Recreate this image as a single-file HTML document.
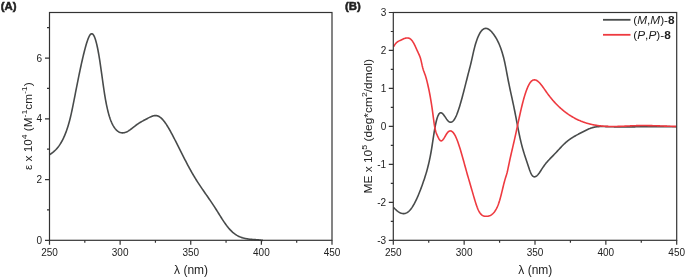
<!DOCTYPE html><html><head><meta charset="utf-8"><style>html,body{margin:0;padding:0;background:#fff;}svg{display:block;will-change:transform;}text{font-family:"Liberation Sans",sans-serif;fill:#222;}</style></head><body>
<svg width="685" height="277" viewBox="0 0 685 277">
<rect width="685" height="277" fill="#fff"/>
<text x="0.8" y="10.1" font-size="11.4" font-weight="bold" stroke="#222" stroke-width="0.5">(A)</text>
<text x="344.9" y="10.1" font-size="11.4" font-weight="bold" stroke="#222" stroke-width="0.5">(B)</text>
<path d="M49.50,154.73 50.00,154.40 50.50,154.07 51.00,153.73 51.50,153.38 52.00,153.02 52.50,152.64 53.00,152.25 53.50,151.84 54.00,151.41 54.50,150.97 55.00,150.50 55.50,150.01 56.00,149.50 56.50,148.96 57.00,148.40 57.50,147.81 58.00,147.19 58.50,146.54 59.00,145.86 59.50,145.14 60.00,144.39 60.50,143.60 61.00,142.77 61.50,141.91 62.00,141.01 62.50,140.06 63.00,139.07 63.50,138.03 64.00,136.95 64.50,135.82 65.00,134.64 65.50,133.40 66.00,132.11 66.50,130.75 67.00,129.32 67.50,127.82 68.00,126.24 68.50,124.58 69.00,122.83 69.50,120.98 70.00,119.04 70.50,117.00 71.00,114.85 71.50,112.61 72.00,110.28 72.50,107.89 73.00,105.43 73.50,102.93 74.00,100.40 74.50,97.84 75.00,95.28 75.50,92.72 76.00,90.16 76.50,87.62 77.00,85.09 77.50,82.58 78.00,80.08 78.50,77.61 79.00,75.17 79.50,72.75 80.00,70.37 80.50,68.02 81.00,65.71 81.50,63.43 82.00,61.20 82.50,59.02 83.00,56.89 83.50,54.81 84.00,52.78 84.50,50.81 85.00,48.90 85.50,47.06 86.00,45.28 86.50,43.58 87.00,41.97 87.50,40.47 88.00,39.08 88.50,37.82 89.00,36.71 89.50,35.75 90.00,34.95 90.50,34.34 91.00,33.93 91.50,33.72 92.00,33.72 92.50,33.94 93.00,34.38 93.50,35.03 94.00,35.89 94.50,36.96 95.00,38.25 95.50,39.74 96.00,41.43 96.50,43.34 97.00,45.44 97.50,47.75 98.00,50.27 98.50,52.98 99.00,55.89 99.50,58.98 100.00,62.22 100.50,65.58 101.00,69.04 101.50,72.57 102.00,76.15 102.50,79.74 103.00,83.32 103.50,86.84 104.00,90.25 104.50,93.53 105.00,96.62 105.50,99.53 106.00,102.25 106.50,104.80 107.00,107.18 107.50,109.41 108.00,111.47 108.50,113.40 109.00,115.18 109.50,116.84 110.00,118.37 110.50,119.78 111.00,121.08 111.50,122.28 112.00,123.38 112.50,124.40 113.00,125.33 113.50,126.19 114.00,126.98 114.50,127.71 115.00,128.39 115.50,129.01 116.00,129.58 116.50,130.10 117.00,130.57 117.50,130.99 118.00,131.37 118.50,131.70 119.00,131.99 119.50,132.23 120.00,132.44 120.50,132.60 121.00,132.73 121.50,132.81 122.00,132.87 122.50,132.88 123.00,132.87 123.50,132.82 124.00,132.74 124.50,132.63 125.00,132.49 125.50,132.33 126.00,132.14 126.50,131.92 127.00,131.69 127.50,131.43 128.00,131.15 128.50,130.85 129.00,130.53 129.50,130.20 130.00,129.86 130.50,129.50 131.00,129.13 131.50,128.76 132.00,128.37 132.50,127.98 133.00,127.59 133.50,127.20 134.00,126.80 134.50,126.41 135.00,126.02 135.50,125.63 136.00,125.25 136.50,124.88 137.00,124.52 137.50,124.17 138.00,123.83 138.50,123.50 139.00,123.18 139.50,122.86 140.00,122.55 140.50,122.25 141.00,121.96 141.50,121.67 142.00,121.39 142.50,121.11 143.00,120.83 143.50,120.56 144.00,120.29 144.50,120.02 145.00,119.76 145.50,119.50 146.00,119.23 146.50,118.97 147.00,118.70 147.50,118.44 148.00,118.17 148.50,117.91 149.00,117.65 149.50,117.39 150.00,117.15 150.50,116.91 151.00,116.69 151.50,116.48 152.00,116.29 152.50,116.11 153.00,115.96 153.50,115.83 154.00,115.73 154.50,115.65 155.00,115.60 155.50,115.58 156.00,115.60 156.50,115.65 157.00,115.74 157.50,115.87 158.00,116.04 158.50,116.26 159.00,116.51 159.50,116.81 160.00,117.15 160.50,117.53 161.00,117.95 161.50,118.40 162.00,118.89 162.50,119.41 163.00,119.96 163.50,120.55 164.00,121.17 164.50,121.81 165.00,122.49 165.50,123.19 166.00,123.92 166.50,124.67 167.00,125.44 167.50,126.24 168.00,127.06 168.50,127.89 169.00,128.75 169.50,129.62 170.00,130.51 170.50,131.41 171.00,132.33 171.50,133.26 172.00,134.19 172.50,135.14 173.00,136.10 173.50,137.06 174.00,138.03 174.50,139.01 175.00,139.99 175.50,140.97 176.00,141.96 176.50,142.94 177.00,143.93 177.50,144.93 178.00,145.92 178.50,146.91 179.00,147.91 179.50,148.90 180.00,149.90 180.50,150.89 181.00,151.89 181.50,152.88 182.00,153.87 182.50,154.86 183.00,155.85 183.50,156.83 184.00,157.81 184.50,158.79 185.00,159.77 185.50,160.73 186.00,161.70 186.50,162.66 187.00,163.61 187.50,164.56 188.00,165.51 188.50,166.44 189.00,167.37 189.50,168.29 190.00,169.21 190.50,170.11 191.00,171.01 191.50,171.90 192.00,172.78 192.50,173.65 193.00,174.51 193.50,175.36 194.00,176.20 194.50,177.03 195.00,177.86 195.50,178.67 196.00,179.47 196.50,180.27 197.00,181.06 197.50,181.84 198.00,182.61 198.50,183.38 199.00,184.14 199.50,184.90 200.00,185.65 200.50,186.39 201.00,187.13 201.50,187.87 202.00,188.60 202.50,189.33 203.00,190.06 203.50,190.78 204.00,191.51 204.50,192.23 205.00,192.95 205.50,193.67 206.00,194.38 206.50,195.10 207.00,195.82 207.50,196.54 208.00,197.26 208.50,197.98 209.00,198.70 209.50,199.43 210.00,200.15 210.50,200.89 211.00,201.62 211.50,202.36 212.00,203.10 212.50,203.85 213.00,204.60 213.50,205.36 214.00,206.12 214.50,206.89 215.00,207.67 215.50,208.45 216.00,209.24 216.50,210.03 217.00,210.83 217.50,211.63 218.00,212.43 218.50,213.24 219.00,214.04 219.50,214.84 220.00,215.64 220.50,216.44 221.00,217.24 221.50,218.02 222.00,218.81 222.50,219.58 223.00,220.35 223.50,221.10 224.00,221.85 224.50,222.59 225.00,223.31 225.50,224.02 226.00,224.72 226.50,225.40 227.00,226.07 227.50,226.71 228.00,227.34 228.50,227.95 229.00,228.54 229.50,229.11 230.00,229.66 230.50,230.19 231.00,230.69 231.50,231.18 232.00,231.65 232.50,232.10 233.00,232.53 233.50,232.95 234.00,233.34 234.50,233.72 235.00,234.08 235.50,234.43 236.00,234.76 236.50,235.07 237.00,235.37 237.50,235.65 238.00,235.93 238.50,236.18 239.00,236.42 239.50,236.65 240.00,236.87 240.50,237.08 241.00,237.27 241.50,237.45 242.00,237.62 242.50,237.79 243.00,237.94 243.50,238.08 244.00,238.21 244.50,238.33 245.00,238.45 245.50,238.55 246.00,238.65 246.50,238.74 247.00,238.83 247.50,238.91 248.00,238.98 248.50,239.05 249.00,239.11 249.50,239.17 250.00,239.22 250.50,239.27 251.00,239.32 251.50,239.36 252.00,239.40 252.50,239.44 253.00,239.48 253.50,239.51 254.00,239.55 254.50,239.58 255.00,239.62 255.50,239.65 256.00,239.68 256.50,239.72 257.00,239.76 257.50,239.80 258.00,239.84 258.50,239.88 259.00,239.93 259.50,239.98 260.00,240.04 260.50,240.10 261.00,240.17 261.50,240.24 262.00,240.31 262.50,240.40 263.00,240.48" fill="none" stroke="#484b4b" stroke-width="1.6" stroke-linejoin="round"/>
<rect x="49.50" y="12.50" width="282.50" height="227.80" fill="none" stroke="#333" stroke-width="1.2"/>
<path d="M49.50,240.30H45.00 M49.50,209.93H47.00 M49.50,179.55H45.00 M49.50,149.18H47.00 M49.50,118.81H45.00 M49.50,88.43H47.00 M49.50,58.06H45.00 M49.50,27.69H47.00 M49.50,240.30V244.80 M84.81,240.30V242.80 M120.12,240.30V244.80 M155.44,240.30V242.80 M190.75,240.30V244.80 M226.06,240.30V242.80 M261.38,240.30V244.80 M296.69,240.30V242.80 M332.00,240.30V244.80" stroke="#333" stroke-width="1.2" fill="none"/>
<text x="42" y="243.80" font-size="10" text-anchor="end">0</text>
<text x="42" y="183.05" font-size="10" text-anchor="end">2</text>
<text x="42" y="122.31" font-size="10" text-anchor="end">4</text>
<text x="42" y="61.56" font-size="10" text-anchor="end">6</text>
<text x="49.50" y="255.6" font-size="10" text-anchor="middle">250</text>
<text x="120.12" y="255.6" font-size="10" text-anchor="middle">300</text>
<text x="190.75" y="255.6" font-size="10" text-anchor="middle">350</text>
<text x="261.38" y="255.6" font-size="10" text-anchor="middle">400</text>
<text x="332.00" y="255.6" font-size="10" text-anchor="middle">450</text>
<text transform="translate(191.05,273.5) scale(1,1.08)" font-size="12" text-anchor="middle">λ (nm)</text>
<text transform="translate(32.3,126.2) rotate(-90) scale(1.155,1)" font-size="10.2" text-anchor="middle">ε x 10<tspan font-size="7.5" dy="-5.5">4</tspan><tspan dy="5.5"> (M</tspan><tspan font-size="7.5" dy="-5.5">-1</tspan><tspan dy="5.5">cm</tspan><tspan font-size="7.5" dy="-5.5">-1</tspan><tspan dy="5.5">)</tspan></text>
<path d="M393.60,207.43 394.10,207.97 394.60,208.49 395.10,209.00 395.60,209.48 396.10,209.94 396.60,210.38 397.10,210.80 397.60,211.19 398.10,211.56 398.60,211.90 399.10,212.21 399.60,212.49 400.10,212.75 400.60,212.97 401.10,213.16 401.60,213.32 402.10,213.45 402.60,213.54 403.10,213.59 403.60,213.61 404.10,213.59 404.60,213.53 405.10,213.43 405.60,213.28 406.10,213.10 406.60,212.87 407.10,212.60 407.60,212.28 408.10,211.91 408.60,211.50 409.10,211.04 409.60,210.53 410.10,209.98 410.60,209.39 411.10,208.75 411.60,208.07 412.10,207.35 412.60,206.58 413.10,205.78 413.60,204.94 414.10,204.06 414.60,203.14 415.10,202.18 415.60,201.19 416.10,200.16 416.60,199.10 417.10,198.01 417.60,196.88 418.10,195.72 418.60,194.53 419.10,193.31 419.60,192.06 420.10,190.79 420.60,189.48 421.10,188.15 421.60,186.79 422.10,185.41 422.60,184.00 423.10,182.57 423.60,181.11 424.10,179.64 424.60,178.13 425.10,176.60 425.60,175.01 426.10,173.38 426.60,171.67 427.10,169.89 427.60,168.03 428.10,166.07 428.60,164.00 429.10,161.82 429.60,159.52 430.10,157.07 430.60,154.49 431.10,151.74 431.60,148.84 432.10,145.75 432.60,142.49 433.10,139.15 433.60,135.84 434.10,132.67 434.60,129.67 435.10,126.87 435.60,124.30 436.10,122.00 436.60,119.97 437.10,118.23 437.60,116.76 438.10,115.54 438.60,114.56 439.10,113.81 439.60,113.27 440.10,112.93 440.60,112.77 441.10,112.78 441.60,112.94 442.10,113.24 442.60,113.66 443.10,114.18 443.60,114.79 444.10,115.46 444.60,116.17 445.10,116.92 445.60,117.67 446.10,118.42 446.60,119.14 447.10,119.82 447.60,120.43 448.10,120.96 448.60,121.40 449.10,121.75 449.60,122.00 450.10,122.15 450.60,122.21 451.10,122.16 451.60,122.02 452.10,121.78 452.60,121.43 453.10,120.99 453.60,120.43 454.10,119.77 454.60,119.01 455.10,118.14 455.60,117.17 456.10,116.10 456.60,114.95 457.10,113.71 457.60,112.39 458.10,111.00 458.60,109.53 459.10,108.00 459.60,106.41 460.10,104.76 460.60,103.05 461.10,101.30 461.60,99.50 462.10,97.67 462.60,95.80 463.10,93.90 463.60,91.98 464.10,90.03 464.60,88.08 465.10,86.11 465.60,84.13 466.10,82.15 466.60,80.18 467.10,78.21 467.60,76.25 468.10,74.31 468.60,72.39 469.10,70.48 469.60,68.56 470.10,66.61 470.60,64.61 471.10,62.54 471.60,60.39 472.10,58.16 472.60,55.89 473.10,53.63 473.60,51.44 474.10,49.35 474.60,47.38 475.10,45.53 475.60,43.80 476.10,42.17 476.60,40.65 477.10,39.24 477.60,37.92 478.10,36.71 478.60,35.59 479.10,34.56 479.60,33.62 480.10,32.76 480.60,31.99 481.10,31.30 481.60,30.68 482.10,30.15 482.60,29.68 483.10,29.30 483.60,28.98 484.10,28.73 484.60,28.55 485.10,28.43 485.60,28.37 486.10,28.38 486.60,28.44 487.10,28.56 487.60,28.74 488.10,28.96 488.60,29.24 489.10,29.56 489.60,29.93 490.10,30.34 490.60,30.80 491.10,31.29 491.60,31.83 492.10,32.40 492.60,33.00 493.10,33.63 493.60,34.29 494.10,34.98 494.60,35.70 495.10,36.45 495.60,37.23 496.10,38.05 496.60,38.92 497.10,39.83 497.60,40.79 498.10,41.80 498.60,42.87 499.10,44.00 499.60,45.20 500.10,46.46 500.60,47.80 501.10,49.21 501.60,50.70 502.10,52.28 502.60,53.94 503.10,55.69 503.60,57.57 504.10,59.58 504.60,61.76 505.10,64.11 505.60,66.60 506.10,69.18 506.60,71.83 507.10,74.49 507.60,77.14 508.10,79.73 508.60,82.25 509.10,84.71 509.60,87.11 510.10,89.47 510.60,91.80 511.10,94.10 511.60,96.39 512.10,98.69 512.60,100.99 513.10,103.31 513.60,105.66 514.10,108.06 514.60,110.51 515.10,113.02 515.60,115.58 516.10,118.17 516.60,120.79 517.10,123.41 517.60,126.02 518.10,128.61 518.60,131.15 519.10,133.62 519.60,136.03 520.10,138.34 520.60,140.54 521.10,142.64 521.60,144.63 522.10,146.53 522.60,148.35 523.10,150.09 523.60,151.76 524.10,153.38 524.60,154.94 525.10,156.47 525.60,157.98 526.10,159.47 526.60,160.95 527.10,162.45 527.60,163.96 528.10,165.49 528.60,167.02 529.10,168.52 529.60,169.97 530.10,171.32 530.60,172.56 531.10,173.65 531.60,174.58 532.10,175.32 532.60,175.91 533.10,176.35 533.60,176.64 534.10,176.80 534.60,176.84 535.10,176.76 535.60,176.59 536.10,176.32 536.60,175.96 537.10,175.53 537.60,175.02 538.10,174.46 538.60,173.84 539.10,173.17 539.60,172.46 540.10,171.73 540.60,170.97 541.10,170.20 541.60,169.42 542.10,168.65 542.60,167.88 543.10,167.14 543.60,166.42 544.10,165.72 544.60,165.04 545.10,164.38 545.60,163.74 546.10,163.12 546.60,162.52 547.10,161.93 547.60,161.36 548.10,160.80 548.60,160.25 549.10,159.71 549.60,159.17 550.10,158.65 550.60,158.13 551.10,157.62 551.60,157.11 552.10,156.60 552.60,156.09 553.10,155.59 553.60,155.08 554.10,154.56 554.60,154.05 555.10,153.52 555.60,153.00 556.10,152.46 556.60,151.93 557.10,151.39 557.60,150.85 558.10,150.31 558.60,149.77 559.10,149.22 559.60,148.69 560.10,148.15 560.60,147.61 561.10,147.08 561.60,146.56 562.10,146.04 562.60,145.53 563.10,145.02 563.60,144.53 564.10,144.04 564.60,143.56 565.10,143.10 565.60,142.64 566.10,142.20 566.60,141.77 567.10,141.35 567.60,140.95 568.10,140.55 568.60,140.17 569.10,139.80 569.60,139.44 570.10,139.08 570.60,138.74 571.10,138.40 571.60,138.08 572.10,137.76 572.60,137.44 573.10,137.14 573.60,136.84 574.10,136.54 574.60,136.25 575.10,135.97 575.60,135.69 576.10,135.41 576.60,135.14 577.10,134.87 577.60,134.60 578.10,134.33 578.60,134.07 579.10,133.80 579.60,133.54 580.10,133.27 580.60,133.01 581.10,132.74 581.60,132.48 582.10,132.22 582.60,131.95 583.10,131.69 583.60,131.43 584.10,131.17 584.60,130.92 585.10,130.67 585.60,130.42 586.10,130.18 586.60,129.94 587.10,129.71 587.60,129.48 588.10,129.26 588.60,129.04 589.10,128.83 589.60,128.63 590.10,128.44 590.60,128.26 591.10,128.08 591.60,127.91 592.10,127.76 592.60,127.61 593.10,127.48 593.60,127.35 594.10,127.24 594.60,127.13 595.10,127.04 595.60,126.96 596.10,126.88 596.60,126.81 597.10,126.75 597.60,126.70 598.10,126.66 598.60,126.62 599.10,126.59 599.60,126.56 600.10,126.55 600.60,126.53 601.10,126.52 601.60,126.52 602.10,126.52 602.60,126.52 603.10,126.53 603.60,126.54 604.10,126.55 604.60,126.56 605.10,126.58 605.60,126.60 606.10,126.61 606.60,126.63 607.10,126.65 607.60,126.67 608.10,126.68 608.60,126.70 609.10,126.71 609.60,126.73 610.10,126.74 610.60,126.75 611.10,126.77 611.60,126.78 612.10,126.79 612.60,126.80 613.10,126.81 613.60,126.82 614.10,126.83 614.60,126.84 615.10,126.85 615.60,126.85 616.10,126.86 616.60,126.87 617.10,126.87 617.60,126.88 618.10,126.88 618.60,126.89 619.10,126.89 619.60,126.89 620.10,126.90 620.60,126.90 621.10,126.90 621.60,126.90 622.10,126.90 622.60,126.90 623.10,126.91 623.60,126.91 624.10,126.91 624.60,126.90 625.10,126.90 625.60,126.90 626.10,126.90 626.60,126.90 627.10,126.90 627.60,126.89 628.10,126.89 628.60,126.89 629.10,126.88 629.60,126.88 630.10,126.88 630.60,126.87 631.10,126.87 631.60,126.86 632.10,126.86 632.60,126.85 633.10,126.85 633.60,126.84 634.10,126.84 634.60,126.83 635.10,126.83 635.60,126.82 636.10,126.81 636.60,126.81 637.10,126.80 637.60,126.80 638.10,126.79 638.60,126.78 639.10,126.78 639.60,126.77 640.10,126.76 640.60,126.76 641.10,126.75 641.60,126.74 642.10,126.74 642.60,126.73 643.10,126.72 643.60,126.72 644.10,126.71 644.60,126.70 645.10,126.70 645.60,126.69 646.10,126.68 646.60,126.68 647.10,126.67 647.60,126.66 648.10,126.66 648.60,126.65 649.10,126.65 649.60,126.64 650.10,126.64 650.60,126.63 651.10,126.63 651.60,126.62 652.10,126.62 652.60,126.61 653.10,126.61 653.60,126.60 654.10,126.60 654.60,126.60 655.10,126.59 655.60,126.59 656.10,126.59 656.60,126.59 657.10,126.58 657.60,126.58 658.10,126.58 658.60,126.58 659.10,126.58 659.60,126.58 660.10,126.58 660.60,126.58 661.10,126.58 661.60,126.58 662.10,126.58 662.60,126.58 663.10,126.59 663.60,126.59 664.10,126.59 664.60,126.60 665.10,126.60 665.60,126.60 666.10,126.61 666.60,126.62 667.10,126.62 667.60,126.63 668.10,126.64 668.60,126.64 669.10,126.65 669.60,126.66 670.10,126.67 670.60,126.68 671.10,126.69 671.60,126.70 672.10,126.71 672.60,126.73 673.10,126.74 673.60,126.75 674.10,126.77 674.60,126.78 675.10,126.80 675.60,126.81 676.10,126.83 676.50,126.84" fill="none" stroke="#484b4b" stroke-width="1.6" stroke-linejoin="round"/>
<path d="M393.70,46.64 394.20,45.69 394.70,44.86 395.20,44.13 395.70,43.49 396.20,42.94 396.70,42.46 397.20,42.05 397.70,41.70 398.20,41.39 398.70,41.11 399.20,40.87 399.70,40.64 400.20,40.42 400.70,40.20 401.20,39.97 401.70,39.74 402.20,39.50 402.70,39.26 403.20,39.03 403.70,38.81 404.20,38.61 404.70,38.42 405.20,38.26 405.70,38.13 406.20,38.02 406.70,37.95 407.20,37.93 407.70,37.94 408.20,38.01 408.70,38.13 409.20,38.31 409.70,38.55 410.20,38.86 410.70,39.23 411.20,39.69 411.70,40.22 412.20,40.84 412.70,41.55 413.20,42.35 413.70,43.22 414.20,44.17 414.70,45.16 415.20,46.20 415.70,47.28 416.20,48.37 416.70,49.47 417.20,50.56 417.70,51.65 418.20,52.74 418.70,53.84 419.20,54.94 419.70,56.09 420.20,57.43 420.70,59.09 421.20,61.16 421.70,63.44 422.20,65.69 422.70,67.68 423.20,69.40 423.70,70.92 424.20,72.33 424.70,73.69 425.20,75.10 425.70,76.62 426.20,78.31 426.70,80.16 427.20,82.15 427.70,84.25 428.20,86.46 428.70,88.77 429.20,91.19 429.70,93.74 430.20,96.43 430.70,99.28 431.20,102.29 431.70,105.50 432.20,108.91 432.70,112.53 433.20,116.37 433.70,120.26 434.20,123.88 434.70,126.94 435.20,129.37 435.70,131.30 436.20,132.84 436.70,134.13 437.20,135.30 437.70,136.41 438.20,137.46 438.70,138.42 439.20,139.25 439.70,139.94 440.20,140.46 440.70,140.77 441.20,140.86 441.70,140.74 442.20,140.43 442.70,139.98 443.20,139.39 443.70,138.69 444.20,137.92 444.70,137.09 445.20,136.23 445.70,135.37 446.20,134.53 446.70,133.73 447.20,133.01 447.70,132.39 448.20,131.87 448.70,131.47 449.20,131.17 449.70,130.99 450.20,130.91 450.70,130.94 451.20,131.07 451.70,131.30 452.20,131.64 452.70,132.07 453.20,132.61 453.70,133.24 454.20,133.97 454.70,134.79 455.20,135.71 455.70,136.72 456.20,137.81 456.70,138.99 457.20,140.24 457.70,141.57 458.20,142.96 458.70,144.42 459.20,145.93 459.70,147.50 460.20,149.11 460.70,150.77 461.20,152.46 461.70,154.18 462.20,155.94 462.70,157.71 463.20,159.51 463.70,161.31 464.20,163.13 464.70,164.94 465.20,166.76 465.70,168.57 466.20,170.37 466.70,172.15 467.20,173.91 467.70,175.66 468.20,177.40 468.70,179.12 469.20,180.84 469.70,182.56 470.20,184.27 470.70,185.98 471.20,187.70 471.70,189.42 472.20,191.14 472.70,192.88 473.20,194.62 473.70,196.35 474.20,198.07 474.70,199.75 475.20,201.39 475.70,202.98 476.20,204.51 476.70,205.96 477.20,207.32 477.70,208.58 478.20,209.74 478.70,210.78 479.20,211.71 479.70,212.53 480.20,213.26 480.70,213.88 481.20,214.42 481.70,214.87 482.20,215.24 482.70,215.55 483.20,215.79 483.70,215.97 484.20,216.11 484.70,216.20 485.20,216.26 485.70,216.28 486.20,216.29 486.70,216.28 487.20,216.25 487.70,216.19 488.20,216.11 488.70,216.00 489.20,215.86 489.70,215.69 490.20,215.48 490.70,215.23 491.20,214.94 491.70,214.61 492.20,214.22 492.70,213.79 493.20,213.30 493.70,212.76 494.20,212.16 494.70,211.49 495.20,210.76 495.70,209.97 496.20,209.10 496.70,208.15 497.20,207.10 497.70,205.97 498.20,204.72 498.70,203.36 499.20,201.88 499.70,200.28 500.20,198.53 500.70,196.66 501.20,194.70 501.70,192.67 502.20,190.60 502.70,188.51 503.20,186.45 503.70,184.42 504.20,182.46 504.70,180.61 505.20,178.87 505.70,177.28 506.20,175.74 506.70,174.11 507.20,172.27 507.70,170.10 508.20,167.69 508.70,165.22 509.20,162.81 509.70,160.48 510.20,158.20 510.70,155.97 511.20,153.78 511.70,151.62 512.20,149.47 512.70,147.34 513.20,145.19 513.70,143.04 514.20,140.86 514.70,138.65 515.20,136.40 515.70,134.11 516.20,131.80 516.70,129.46 517.20,127.11 517.70,124.76 518.20,122.41 518.70,120.08 519.20,117.77 519.70,115.48 520.20,113.24 520.70,111.03 521.20,108.89 521.70,106.80 522.20,104.77 522.70,102.80 523.20,100.91 523.70,99.08 524.20,97.32 524.70,95.63 525.20,94.02 525.70,92.49 526.20,91.04 526.70,89.67 527.20,88.38 527.70,87.19 528.20,86.08 528.70,85.06 529.20,84.14 529.70,83.32 530.20,82.59 530.70,81.95 531.20,81.41 531.70,80.95 532.20,80.58 532.70,80.28 533.20,80.07 533.70,79.93 534.20,79.86 534.70,79.86 535.20,79.93 535.70,80.07 536.20,80.26 536.70,80.51 537.20,80.81 537.70,81.16 538.20,81.56 538.70,82.01 539.20,82.49 539.70,83.02 540.20,83.57 540.70,84.16 541.20,84.78 541.70,85.42 542.20,86.08 542.70,86.76 543.20,87.45 543.70,88.16 544.20,88.87 544.70,89.59 545.20,90.31 545.70,91.03 546.20,91.75 546.70,92.46 547.20,93.16 547.70,93.85 548.20,94.52 548.70,95.19 549.20,95.84 549.70,96.49 550.20,97.13 550.70,97.75 551.20,98.37 551.70,98.97 552.20,99.57 552.70,100.15 553.20,100.73 553.70,101.30 554.20,101.86 554.70,102.41 555.20,102.95 555.70,103.48 556.20,104.00 556.70,104.51 557.20,105.02 557.70,105.52 558.20,106.00 558.70,106.48 559.20,106.96 559.70,107.42 560.20,107.88 560.70,108.33 561.20,108.77 561.70,109.20 562.20,109.63 562.70,110.05 563.20,110.46 563.70,110.86 564.20,111.26 564.70,111.65 565.20,112.04 565.70,112.42 566.20,112.79 566.70,113.15 567.20,113.51 567.70,113.87 568.20,114.21 568.70,114.55 569.20,114.89 569.70,115.21 570.20,115.54 570.70,115.85 571.20,116.16 571.70,116.47 572.20,116.77 572.70,117.06 573.20,117.35 573.70,117.63 574.20,117.91 574.70,118.18 575.20,118.44 575.70,118.70 576.20,118.96 576.70,119.20 577.20,119.45 577.70,119.69 578.20,119.92 578.70,120.15 579.20,120.37 579.70,120.59 580.20,120.80 580.70,121.01 581.20,121.22 581.70,121.41 582.20,121.61 582.70,121.80 583.20,121.98 583.70,122.16 584.20,122.34 584.70,122.51 585.20,122.67 585.70,122.84 586.20,122.99 586.70,123.15 587.20,123.30 587.70,123.44 588.20,123.58 588.70,123.72 589.20,123.85 589.70,123.98 590.20,124.11 590.70,124.23 591.20,124.34 591.70,124.46 592.20,124.57 592.70,124.67 593.20,124.77 593.70,124.87 594.20,124.97 594.70,125.06 595.20,125.15 595.70,125.23 596.20,125.31 596.70,125.39 597.20,125.47 597.70,125.54 598.20,125.61 598.70,125.67 599.20,125.74 599.70,125.80 600.20,125.85 600.70,125.91 601.20,125.96 601.70,126.01 602.20,126.05 602.70,126.10 603.20,126.14 603.70,126.18 604.20,126.21 604.70,126.24 605.20,126.28 605.70,126.30 606.20,126.33 606.70,126.35 607.20,126.38 607.70,126.40 608.20,126.41 608.70,126.43 609.20,126.44 609.70,126.45 610.20,126.46 610.70,126.47 611.20,126.48 611.70,126.48 612.20,126.48 612.70,126.49 613.20,126.49 613.70,126.48 614.20,126.48 614.70,126.48 615.20,126.47 615.70,126.46 616.20,126.45 616.70,126.44 617.20,126.43 617.70,126.42 618.20,126.41 618.70,126.39 619.20,126.38 619.70,126.36 620.20,126.34 620.70,126.33 621.20,126.31 621.70,126.29 622.20,126.27 622.70,126.25 623.20,126.23 623.70,126.21 624.20,126.19 624.70,126.16 625.20,126.14 625.70,126.12 626.20,126.10 626.70,126.07 627.20,126.05 627.70,126.03 628.20,126.00 628.70,125.98 629.20,125.96 629.70,125.93 630.20,125.91 630.70,125.89 631.20,125.86 631.70,125.84 632.20,125.82 632.70,125.80 633.20,125.78 633.70,125.76 634.20,125.74 634.70,125.72 635.20,125.70 635.70,125.68 636.20,125.67 636.70,125.65 637.20,125.64 637.70,125.62 638.20,125.61 638.70,125.60 639.20,125.59 639.70,125.58 640.20,125.57 640.70,125.56 641.20,125.56 641.70,125.55 642.20,125.55 642.70,125.55 643.20,125.55 643.70,125.55 644.20,125.55 644.70,125.55 645.20,125.55 645.70,125.55 646.20,125.56 646.70,125.56 647.20,125.57 647.70,125.58 648.20,125.59 648.70,125.59 649.20,125.60 649.70,125.61 650.20,125.62 650.70,125.64 651.20,125.65 651.70,125.66 652.20,125.67 652.70,125.69 653.20,125.70 653.70,125.72 654.20,125.73 654.70,125.75 655.20,125.76 655.70,125.78 656.20,125.80 656.70,125.81 657.20,125.83 657.70,125.85 658.20,125.87 658.70,125.89 659.20,125.90 659.70,125.92 660.20,125.94 660.70,125.96 661.20,125.98 661.70,126.00 662.20,126.01 662.70,126.03 663.20,126.05 663.70,126.07 664.20,126.09 664.70,126.11 665.20,126.12 665.70,126.14 666.20,126.16 666.70,126.17 667.20,126.19 667.70,126.21 668.20,126.22 668.70,126.24 669.20,126.25 669.70,126.27 670.20,126.28 670.70,126.30 671.20,126.31 671.70,126.32 672.20,126.33 672.70,126.35 673.20,126.36 673.70,126.37 674.20,126.38 674.70,126.38 675.20,126.39 675.70,126.40 676.20,126.41 676.50,126.41" fill="none" stroke="#ee3a40" stroke-width="1.6" stroke-linejoin="round"/>
<rect x="393.30" y="12.50" width="283.40" height="227.80" fill="none" stroke="#333" stroke-width="1.2"/>
<path d="M393.30,240.30H388.80 M393.30,221.32H390.80 M393.30,202.33H388.80 M393.30,183.35H390.80 M393.30,164.37H388.80 M393.30,145.38H390.80 M393.30,126.40H388.80 M393.30,107.42H390.80 M393.30,88.43H388.80 M393.30,69.45H390.80 M393.30,50.47H388.80 M393.30,31.48H390.80 M393.30,12.50H388.80 M393.30,240.30V244.80 M428.73,240.30V242.80 M464.15,240.30V244.80 M499.58,240.30V242.80 M535.00,240.30V244.80 M570.43,240.30V242.80 M605.85,240.30V244.80 M641.28,240.30V242.80 M676.70,240.30V244.80" stroke="#333" stroke-width="1.2" fill="none"/>
<text x="386.2" y="243.80" font-size="10" text-anchor="end">-3</text>
<text x="386.2" y="205.83" font-size="10" text-anchor="end">-2</text>
<text x="386.2" y="167.87" font-size="10" text-anchor="end">-1</text>
<text x="386.2" y="129.90" font-size="10" text-anchor="end">0</text>
<text x="386.2" y="91.93" font-size="10" text-anchor="end">1</text>
<text x="386.2" y="53.97" font-size="10" text-anchor="end">2</text>
<text x="386.2" y="16.00" font-size="10" text-anchor="end">3</text>
<text x="393.30" y="255.6" font-size="10" text-anchor="middle">250</text>
<text x="464.15" y="255.6" font-size="10" text-anchor="middle">300</text>
<text x="535.00" y="255.6" font-size="10" text-anchor="middle">350</text>
<text x="605.85" y="255.6" font-size="10" text-anchor="middle">400</text>
<text x="676.70" y="255.6" font-size="10" text-anchor="middle">450</text>
<text transform="translate(535.30,273.5) scale(1,1.08)" font-size="12" text-anchor="middle">λ (nm)</text>
<text transform="translate(372.4,126.3) rotate(-90) scale(1.17,1)" font-size="10.2" text-anchor="middle">ME x 10<tspan font-size="7.5" dy="-5.5">5</tspan><tspan dy="5.5"> (deg*cm</tspan><tspan font-size="7.5" dy="-5.5">2</tspan><tspan dy="5.5">/dmol)</tspan></text>
<path d="M603,19.8H630.5" stroke="#484b4b" stroke-width="1.8"/>
<path d="M603,34.8H630.5" stroke="#ee3a40" stroke-width="1.8"/>
<text x="633.3" y="23.9" font-size="11.8">(<tspan font-style="italic">M</tspan>,<tspan font-style="italic">M</tspan>)-<tspan font-weight="bold">8</tspan></text>
<text x="633.3" y="38.6" font-size="11.8">(<tspan font-style="italic">P</tspan>,<tspan font-style="italic">P</tspan>)-<tspan font-weight="bold">8</tspan></text>
</svg></body></html>
